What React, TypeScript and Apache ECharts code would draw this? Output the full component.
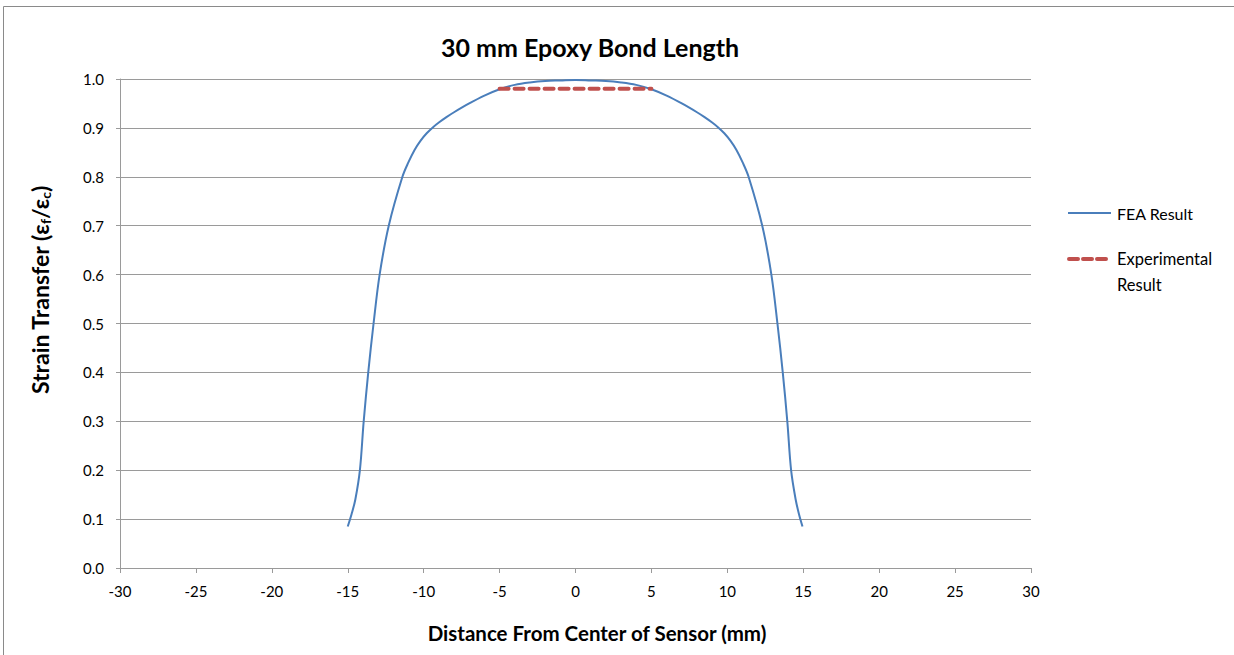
import React, { useEffect, useRef } from "react";
import * as echarts from "echarts";

const feaX = [-15.0, -14.75, -14.5, -14.2, -13.95, -13.65, -13.3, -12.9, -12.3, -11.4, -11.0, -10.6, -10.2, -9.8, -9.4, -9.0, -8.5, -8.0, -7.0, -6.0, -5.0, -4.0, -3.0, -2.0, -1.0, 0,
  1.0, 2.0, 3.0, 4.0, 5.0, 6.0, 7.0, 8.0, 8.5, 9.0, 9.4, 9.8, 10.2, 10.6, 11.0, 11.4, 12.3, 12.9, 13.3, 13.65, 13.95, 14.2, 14.5, 14.72, 14.95];
const feaY = [0.085, 0.11, 0.14, 0.2, 0.3, 0.4, 0.5, 0.6, 0.7, 0.8, 0.83, 0.855, 0.874, 0.889, 0.901, 0.911, 0.922, 0.932, 0.95, 0.966, 0.979, 0.988, 0.993, 0.996, 0.997, 0.998,
  0.997, 0.996, 0.993, 0.988, 0.979, 0.966, 0.95, 0.932, 0.922, 0.911, 0.901, 0.889, 0.874, 0.855, 0.83, 0.8, 0.7, 0.6, 0.5, 0.4, 0.3, 0.2, 0.14, 0.11, 0.085];
const expX = [-5, 5];
const expY = [0.98, 0.98];

const titleText = "30 mm Epoxy Bond Length";
const xAxisTitle = "Distance From Center of Sensor (mm)";
const seriesNames = ["FEA Result", "Experimental Result"];

const FONT = "Lato, 'Open Sans', sans-serif";
const BLUE = "#4a7ebb";
const RED = "#c0504d";

export default function App() {
  const ref = useRef<HTMLDivElement>(null);
  useEffect(() => {
    if (!ref.current) return;
    const chart = echarts.init(ref.current, null, { renderer: "svg" });
    const fea = feaX.map((x, i) => [x, feaY[i]]);
    const exp = expX.map((x, i) => [x, expY[i]]);
    chart.setOption({
      animation: false,
      backgroundColor: "#ffffff",
      textStyle: { fontFamily: FONT },
      title: {
        text: titleText,
        left: 585,
        top: 29,
        textAlign: "center",
        textStyle: { fontFamily: FONT, fontSize: 25, fontWeight: "bold", color: "#000" },
      },
      grid: { left: 120, right: 203, top: 79, bottom: 87, containLabel: false },
      xAxis: {
        type: "value",
        min: -30,
        max: 30,
        interval: 5,
        axisLine: { show: true, onZero: false, lineStyle: { color: "#9a9a9a", width: 1 } },
        axisTick: { show: true, length: 5, lineStyle: { color: "#9a9a9a" } },
        axisLabel: { fontFamily: FONT, fontSize: 15, color: "#000", margin: 15 },
        splitLine: { show: false },
      },
      yAxis: [
        {
          type: "value",
          min: 0,
          max: 1,
          interval: 0.1,
          axisLine: { show: false },
          axisTick: { show: false },
          axisLabel: {
            fontFamily: FONT,
            fontSize: 15,
            color: "#000",
            margin: 16,
            formatter: (v: number) => v.toFixed(1),
          },
          splitLine: { show: true, lineStyle: { color: "#9a9a9a", width: 1 } },
        },
        {
          type: "value",
          min: 0,
          max: 1,
          interval: 0.1,
          position: "left",
          axisLine: { show: true, onZero: true, lineStyle: { color: "#9a9a9a", width: 1 } },
          axisTick: { show: true, inside: false, length: 4, lineStyle: { color: "#9a9a9a" } },
          axisLabel: { show: false },
          splitLine: { show: false },
        },
      ],
      graphic: [
        {
          type: "rect",
          shape: { x: 3.5, y: 6.5, width: 1240, height: 660 },
          style: { fill: "none", stroke: "#8a8a8a", lineWidth: 1 },
          silent: true,
          z: -1,
        },
        {
          type: "text",
          x: 40,
          y: 290,
          rotation: Math.PI / 2,
          style: {
            text: "{b|Strain Transfer (ε}{s|f}{b|/ε}{s|c}{b|)}",
            fontFamily: FONT,
            fontSize: 23,
            fontWeight: "bold",
            fill: "#000",
            align: "center",
            verticalAlign: "middle",
            rich: {
              b: { fontFamily: FONT, fontSize: 23, fontWeight: "bold", fill: "#000", height: 26 },
              s: { fontFamily: FONT, fontSize: 14, fontWeight: "bold", fill: "#000", height: 26, padding: [11, 0, 0, 0] },
            },
          },
        },
        {
          type: "text",
          x: 597,
          y: 633,
          style: {
            text: xAxisTitle,
            align: "center",
            verticalAlign: "middle",
            fontFamily: FONT,
            fontSize: 20.5,
            fontWeight: "bold",
            fill: "#000",
          },
        },
        // legend
        {
          type: "line",
          shape: { x1: 1068, y1: 213, x2: 1111, y2: 213 },
          style: { stroke: BLUE, lineWidth: 2 },
        },
        {
          type: "text",
          x: 1117,
          y: 213,
          style: { text: seriesNames[0], fontFamily: FONT, fontSize: 16, fill: "#000", verticalAlign: "middle" },
        },
        {
          type: "line",
          shape: { x1: 1069, y1: 259, x2: 1111, y2: 259 },
          style: { stroke: RED, lineWidth: 4, lineDash: [9, 5], lineCap: "round" },
        },
        {
          type: "text",
          x: 1117,
          y: 259,
          style: { text: "Experimental", fontFamily: FONT, fontSize: 16.5, fill: "#000", verticalAlign: "middle" },
        },
        {
          type: "text",
          x: 1117,
          y: 285,
          style: { text: "Result", fontFamily: FONT, fontSize: 16.5, fill: "#000", verticalAlign: "middle" },
        },
      ],
      series: [
        {
          name: seriesNames[0],
          type: "line",
          data: fea,
          smooth: 0.35,
          showSymbol: false,
          symbol: "none",
          lineStyle: { color: BLUE, width: 2 },
          itemStyle: { color: BLUE },
          z: 3,
        },
        {
          name: seriesNames[1],
          type: "line",
          data: exp,
          showSymbol: false,
          symbol: "none",
          lineStyle: { color: RED, width: 4, type: [9, 6], cap: "round" },
          itemStyle: { color: RED },
          z: 4,
        },
      ],
    });
    return () => chart.dispose();
  }, []);
  return (
    <div
      ref={ref}
      style={{ position: "fixed", left: 0, top: 0, width: 1234, height: 655 }}
    />
  );
}
